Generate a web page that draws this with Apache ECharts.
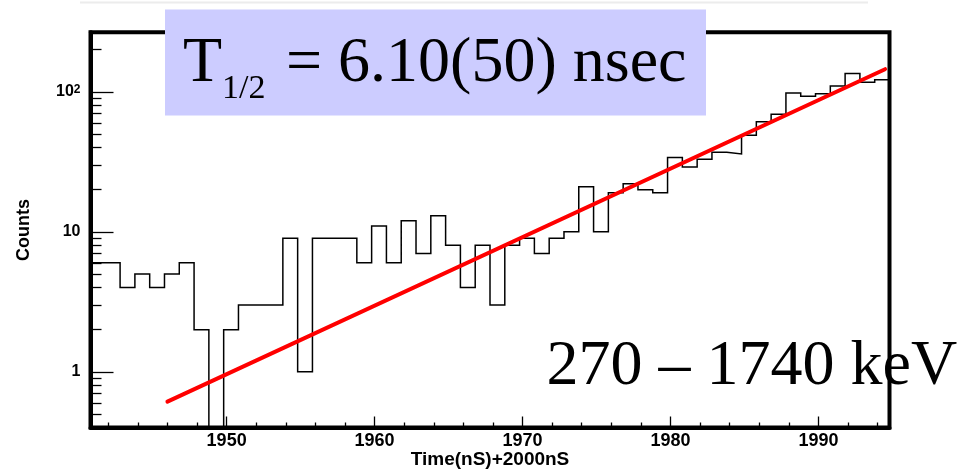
<!DOCTYPE html>
<html><head><meta charset="utf-8">
<script src="https://cdn.jsdelivr.net/npm/echarts@6/dist/echarts.min.js"></script>
<style>html,body{margin:0;padding:0;background:#fff}#c{width:966px;height:469px}</style>
</head><body><div id="c"></div>
<script>
// ---- data ----
const binStart = 1940.8;
const binWidth = 1;
const counts = [6,6,4,5,4,5,6,2,0,2,3,3,3,9,1,9,9,9,6,11,6,12,7,13,8,4,8,3,8,9,7,9,10,21,10,19,22,20,19,34,29,33,37,36,49,61,69,98,93,97,110,135,117,122];
const fitX = [1946.0, 1994.5];
const fitY = [0.612, 145];
const xRange = [1940.8, 1994.8];
const yRange = [0.4, 266];
const xMajorTicks = [1950, 1960, 1970, 1980, 1990];
const xMinorTicks = [1942, 1944, 1946, 1948, 1952, 1954, 1956, 1958, 1962, 1964, 1966, 1968, 1972, 1974, 1976, 1978, 1982, 1984, 1986, 1988, 1992, 1994];
const yMajorTicks = [1, 10, 100];
const yMinorTicks = [0.5, 0.6, 0.7, 0.8, 0.9, 2, 3, 4, 5, 6, 7, 8, 9, 20, 30, 40, 50, 60, 70, 80, 90, 200];
const xTitle = 'Time(nS)+2000nS';
const yTitle = 'Counts';
const boxMain = 'T';
const boxSub = '1/2';
const boxRest = '= 6.10(50) nsec';
const energyText = '270 \u2013 1740 keV';

// ---- build histogram outline from bins ----
const histPts = [];
counts.forEach(function (c, i) {
  const x0 = Math.round((binStart + i * binWidth) * 10) / 10;
  const x1 = Math.round((binStart + (i + 1) * binWidth) * 10) / 10;
  const v = c > 0 ? c : yRange[0];
  histPts.push([x0, v], [x1, v]);
});
const fitPts = fitX.map(function (x, i) { return [x, fitY[i]]; });

const SANS = 'Liberation Sans';
const SERIF = 'Liberation Serif';

const chart = echarts.init(document.getElementById('c'), null, {renderer: 'canvas'});
chart.setOption({
  animation: false,
  backgroundColor: '#fff',
  grid: {left: 90.5, right: 76.5, top: 32.3, bottom: 41.5, show: true, borderColor: '#000', borderWidth: 4, containLabel: false, outerBoundsMode: 'none'},
  xAxis: [{
    type: 'value', min: xRange[0], max: xRange[1], position: 'bottom',
    axisLine: {show: true, onZero: false, lineStyle: {color: '#000', width: 4}},
    axisTick: {show: true, inside: true, length: 11, customValues: xMajorTicks, lineStyle: {color: '#000', width: 1.3}},
    axisLabel: {show: true, customValues: xMajorTicks, margin: 5, color: '#000', fontFamily: SANS, fontWeight: 'bold', fontSize: 18,
      formatter: function (v) { return String(Math.round(v)); }},
    splitLine: {show: false},
    name: xTitle, nameLocation: 'middle', nameGap: 23, nameMoveOverlap: false,
    nameTextStyle: {color: '#000', fontFamily: SANS, fontWeight: 'bold', fontSize: 19}
  }, {
    type: 'value', min: xRange[0], max: xRange[1], position: 'bottom',
    axisLine: {show: false},
    axisTick: {show: true, inside: true, length: 5, customValues: xMinorTicks, lineStyle: {color: '#000', width: 1.3}},
    axisLabel: {show: false}, splitLine: {show: false}
  }],
  yAxis: [{
    type: 'log', logBase: 10, min: yRange[0], max: yRange[1], position: 'left',
    axisLine: {show: true, onZero: false, lineStyle: {color: '#000', width: 4}},
    axisTick: {show: true, inside: true, length: 23, customValues: yMajorTicks, lineStyle: {color: '#000', width: 1.3}},
    axisLabel: {show: true, customValues: yMajorTicks, margin: 10, color: '#000', fontFamily: SANS, fontWeight: 'bold', fontSize: 16,
      formatter: function (v) {
        if (Math.abs(v - 100) < 1e-6) return '{b|10}{s|2}';
        return String(Math.round(v));
      },
      rich: {
        b: {fontFamily: SANS, fontWeight: 'bold', fontSize: 16, color: '#000'},
        s: {fontFamily: SANS, fontWeight: 'bold', fontSize: 12, color: '#000', verticalAlign: 'top', lineHeight: 8}
      }},
    splitLine: {show: false}, minorTick: {show: false},
    name: yTitle, nameLocation: 'middle', nameGap: 57, nameRotate: 90, nameMoveOverlap: false,
    nameTextStyle: {color: '#000', fontFamily: SANS, fontWeight: 'bold', fontSize: 18}
  }, {
    type: 'log', logBase: 10, min: yRange[0], max: yRange[1], position: 'left',
    axisLine: {show: false},
    axisTick: {show: true, inside: true, length: 11, customValues: yMinorTicks, lineStyle: {color: '#000', width: 1.3}},
    axisLabel: {show: false}, splitLine: {show: false}
  }],
  series: [{
    type: 'line', xAxisIndex: 0, yAxisIndex: 0, data: histPts,
    symbol: 'none', showSymbol: false, clip: true, z: 3,
    lineStyle: {color: '#000', width: 1.5, join: 'miter'}
  }, {
    type: 'line', xAxisIndex: 0, yAxisIndex: 0, data: fitPts,
    symbol: 'none', showSymbol: false, clip: true, z: 4,
    lineStyle: {color: '#ff0000', width: 4, cap: 'round'}
  }],
  graphic: [
    {type: 'rect', z: 50, silent: true, shape: {x: 80, y: 1.5, width: 788, height: 2}, style: {fill: '#ececec'}},
    {type: 'rect', z: 100, silent: true, shape: {x: 165, y: 9.5, width: 541, height: 106}, style: {fill: '#ccccff'}},
    {type: 'text', z: 101, silent: true, x: 183, y: 63.8, style: {text: boxMain, font: '64px "' + SERIF + '"', fill: '#000', align: 'left', verticalAlign: 'middle'}},
    {type: 'text', z: 101, silent: true, x: 222, y: 88.9, style: {text: boxSub, font: '34px "' + SERIF + '"', fill: '#000', align: 'left', verticalAlign: 'middle'}},
    {type: 'text', z: 101, silent: true, x: 286, y: 63.8, style: {text: boxRest, font: '64px "' + SERIF + '"', fill: '#000', align: 'left', verticalAlign: 'middle'}},
    {type: 'text', z: 101, silent: true, x: 546.5, y: 367, style: {text: energyText, font: '64px "' + SERIF + '"', fill: '#000', align: 'left', verticalAlign: 'middle'}}
  ]
});
</script></body></html>
